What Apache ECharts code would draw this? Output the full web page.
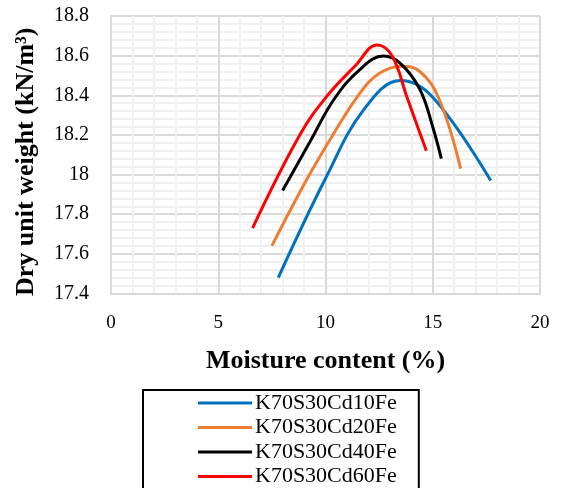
<!DOCTYPE html>
<html>
<head>
<meta charset="utf-8">
<script src="https://cdn.jsdelivr.net/npm/echarts@6/dist/echarts.min.js"></script>
<style>
  html, body { margin: 0; padding: 0; background: #fff; }
  #container { width: 561px; height: 488px; }
</style>
</head>
<body>
<div id="container"></div>
<script>
var dom = document.getElementById('container');
var myChart = echarts.init(dom, null, { renderer: 'canvas' });

// series names and colors
const seriesNames = ['K70S30Cd10Fe', 'K70S30Cd20Fe', 'K70S30Cd40Fe', 'K70S30Cd60Fe'];
const seriesColors = ['#0070C0', '#ED7D31', '#000000', '#FF0000'];

// moisture content (%) / dry unit weight (kN/m3)
const mc10 = [7.8, 10.0, 11.8, 13.5, 15.0, 17.7];
const dw10 = [17.48, 17.98, 18.33, 18.475, 18.39, 17.97];

const mc20 = [7.5, 9.1, 10.4, 11.6, 12.5, 13.5, 14.4, 15.3, 16.3];
const dw20 = [17.64, 17.97, 18.21, 18.41, 18.51, 18.547, 18.52, 18.38, 18.03];

const mc40 = [8.0, 9.3, 10.4, 11.6, 12.7, 13.5, 14.4, 15.0, 15.4];
const dw40 = [17.92, 18.17, 18.38, 18.53, 18.598, 18.56, 18.43, 18.24, 18.08];

const mc60 = [6.6, 8.8, 10.1, 11.4, 12.4, 13.1, 13.8, 14.7];
const dw60 = [17.73, 18.2, 18.40, 18.55, 18.654, 18.6, 18.39, 18.12];

const moistures = [mc10, mc20, mc40, mc60];
const weights = [dw10, dw20, dw40, dw60];

function pairs(xs, ys) {
    let out = [];
    for (let i = 0; i < xs.length; i++) {
        out.push([xs[i], ys[i]]);
    }
    return out;
}

let series = [];
for (let i = 0; i < seriesNames.length; i++) {
    series.push({
        name: seriesNames[i],
        type: 'line',
        smooth: 0.4,
        symbol: 'none',
        data: pairs(moistures[i], weights[i]),
        lineStyle: { color: seriesColors[i], width: 3 },
        itemStyle: { color: seriesColors[i] }
    });
}

const fontFam = '"Liberation Serif", "Times New Roman", serif';

var option = {
    animation: false,
    grid: { left: 111, right: 21, top: 16, bottom: 194.5 },
    legend: {
        orient: 'vertical',
        left: 143,
        top: 390,
        height: 130,
        icon: 'rect',
        itemWidth: 54,
        itemHeight: 3,
        itemGap: 2.5,
        padding: [2, 22, 20, 55],
        borderColor: '#000',
        borderWidth: 2,
        textStyle: { fontFamily: fontFam, fontSize: 22, color: '#000', lineHeight: 22, padding: [0, 0, 0, -2] },
        data: seriesNames
    },
    xAxis: {
        type: 'value',
        min: 0,
        max: 20,
        interval: 5,
        name: 'Moisture content (%)',
        nameLocation: 'middle',
        nameGap: 55,
        nameTextStyle: { fontFamily: fontFam, fontSize: 26, fontWeight: 'bold', color: '#000' },
        axisLine: { show: true, lineStyle: { color: '#d9d9d9', width: 2 } },
        axisTick: { show: false },
        axisLabel: { fontFamily: fontFam, fontSize: 19, color: '#000', margin: 20 },
        splitLine: { show: true, lineStyle: { color: '#d9d9d9', width: 2 } },
        minorTick: { show: false, splitNumber: 5 },
        minorSplitLine: { show: true, lineStyle: { color: '#f0f0f0', width: 2 } }
    },
    yAxis: {
        type: 'value',
        min: 17.4,
        max: 18.8,
        interval: 0.2,
        name: 'Dry unit weight (kN/m³)',
        nameLocation: 'middle',
        nameGap: 72,
        nameTextStyle: { fontFamily: fontFam, fontSize: 26, fontWeight: 'bold', color: '#000', padding: [0, 14, 0, 0] },
        axisLine: { show: true, lineStyle: { color: '#d9d9d9', width: 2 } },
        axisTick: { show: false },
        axisLabel: {
            fontFamily: fontFam, fontSize: 20, color: '#000', margin: 22,
            formatter: function (v) { return +v.toFixed(1) + ''; }
        },
        splitLine: { show: true, lineStyle: { color: '#d9d9d9', width: 2 } },
        minorTick: { show: false, splitNumber: 5 },
        minorSplitLine: { show: true, lineStyle: { color: '#f0f0f0', width: 2 } }
    },
    series: series
};

myChart.setOption(option);
window.addEventListener('resize', myChart.resize);
</script>
</body>
</html>
